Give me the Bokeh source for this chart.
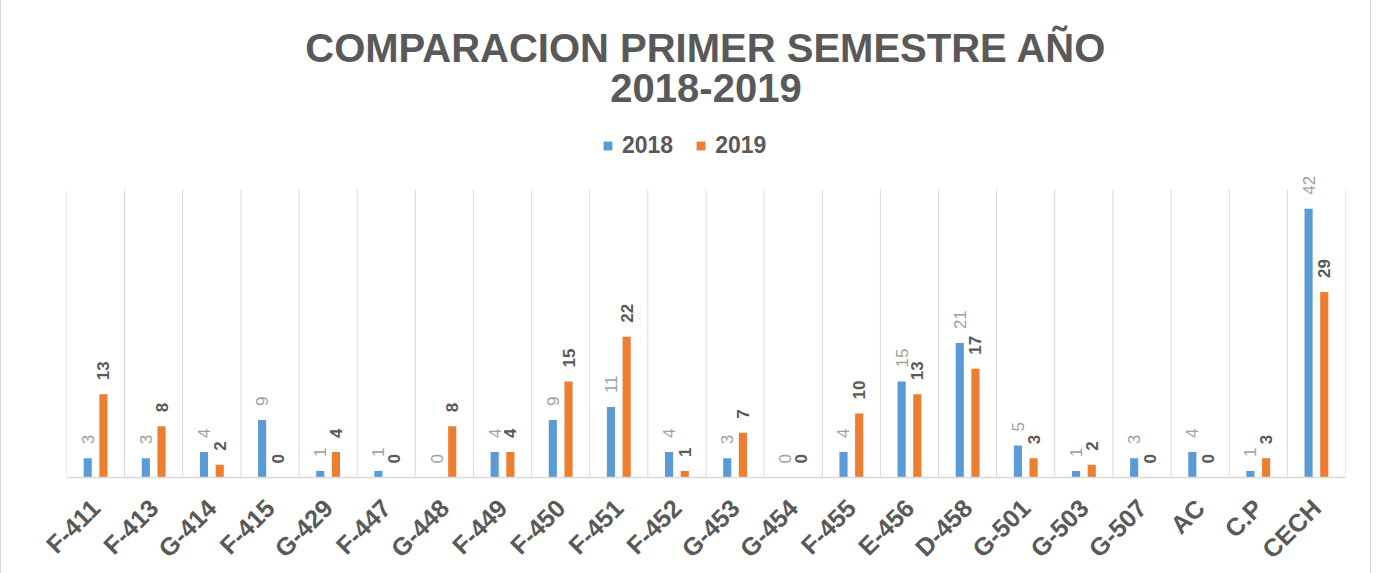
import numpy as np
from bokeh.plotting import figure
from bokeh.models import (ColumnDataSource, FixedTicker, Legend, LegendItem, Range1d, Label)
from bokeh.embed import file_html
from bokeh.resources import INLINE
from bokeh.core.properties import value

categories = ["F-411", "F-413", "G-414", "F-415", "G-429", "F-447", "G-448", "F-449",
              "F-450", "F-451", "F-452", "G-453", "G-454", "F-455", "E-456", "D-458",
              "G-501", "G-503", "G-507", "AC", "C.P", "CECH"]
v2018 = [3, 3, 4, 9, 1, 1, 0, 4, 9, 11, 4, 3, 0, 4, 15, 21, 5, 1, 3, 4, 1, 42]
v2019 = [13, 8, 2, 0, 4, 0, 8, 4, 15, 22, 1, 7, 0, 10, 13, 17, 3, 2, 0, 0, 3, 29]
series_names = ["2018", "2019"]
title_lines = ["COMPARACION PRIMER SEMESTRE AÑO", "2018-2019"]

BLUE = "#5B9BD5"
ORANGE = "#ED7D31"
GRAY = "#595959"
GRID = "#d9d9d9"
FONT = "Liberation Sans"

n = len(categories)
idx = np.arange(n)
off = 0.135
bw = 0.14

VMAX = 45.0            # top of the value area
FRAME_H = 469          # frame spans whole height above the axis
PX_PER_UNIT = 288 / VMAX
YTOP = FRAME_H / PX_PER_UNIT

src = ColumnDataSource(dict(
    x1=idx - off, x2=idx + off, y1=v2018, y2=v2019,
    t1=[str(v) for v in v2018], t2=[str(v) for v in v2019],
))
bounds = [float(i) - 0.5 for i in idx] + [n - 0.5]
gsrc = ColumnDataSource(dict(x=bounds, y0=[0.0] * len(bounds), y1=[VMAX] * len(bounds)))

p = figure(frame_width=1279, frame_height=FRAME_H, output_backend="svg", toolbar_location=None,
           x_range=Range1d(-0.5, n - 0.5), y_range=Range1d(0, YTOP),
           min_border_left=65, min_border_right=25, min_border_bottom=0,
           min_border_top=8)
p.outline_line_color = None
p.styles = {"border-left": "1px solid #d9d9d9", "border-right": "1px solid #d9d9d9"}

# category separator lines (grid)
p.segment(x0="x", y0="y0", x1="x", y1="y1", source=gsrc, line_color=GRID, line_width=1)

r1 = p.vbar(x="x1", top="y1", width=bw, source=src, color=BLUE, line_color=None)
r2 = p.vbar(x="x2", top="y2", width=bw, source=src, color=ORANGE, line_color=None)

p.text(x="x1", y="y1", text="t1", source=src, angle=np.pi / 2, text_align="left",
       text_baseline="middle", y_offset=-14, text_font=value(FONT),
       text_font_size="17px", text_color="#a0a0a0")
p.text(x="x2", y="y2", text="t2", source=src, angle=np.pi / 2, text_align="left",
       text_baseline="middle", y_offset=-14, text_font=value(FONT),
       text_font_size="17px", text_font_style="bold", text_color=GRAY)

# axes
p.yaxis.visible = False
p.ygrid.visible = False
p.xgrid.visible = False
p.xaxis.ticker = FixedTicker(ticks=[int(i) for i in idx])
p.xaxis.major_label_overrides = {int(i): c for i, c in zip(idx, categories)}
p.xaxis.major_label_orientation = np.pi / 4
p.xaxis.major_label_text_font = FONT
p.xaxis.major_label_text_font_size = "25px"
p.xaxis.major_label_text_font_style = "bold"
p.xaxis.major_label_text_color = GRAY
p.xaxis.major_tick_line_color = None
p.xaxis.minor_tick_line_color = None
p.xaxis.axis_line_color = GRID
p.xaxis.axis_line_width = 1.5
p.xaxis.major_label_standoff = 20

# legend inside the (tall) frame, above the value area
legend = Legend(items=[LegendItem(label=series_names[0], renderers=[r1]),
                       LegendItem(label=series_names[1], renderers=[r2])],
                orientation="horizontal", location=(536, 318),
                label_text_font=FONT, label_text_font_size="23px",
                label_text_font_style="bold", label_text_color=GRAY,
                glyph_width=11, glyph_height=11, spacing=22, label_standoff=9,
                border_line_color=None, background_fill_alpha=0,
                margin=0, padding=6)
p.add_layout(legend)

# title lines
xc = (n - 1) / 2
for line, ypx in zip(title_lines, [430, 390]):
    p.add_layout(Label(x=xc, y=ypx / PX_PER_UNIT, text=line, text_align="center",
                       text_baseline="middle", text_font=FONT, text_font_size="40px",
                       text_font_style="bold", text_color=GRAY))

open("out.html", "w").write(file_html(p, INLINE))
